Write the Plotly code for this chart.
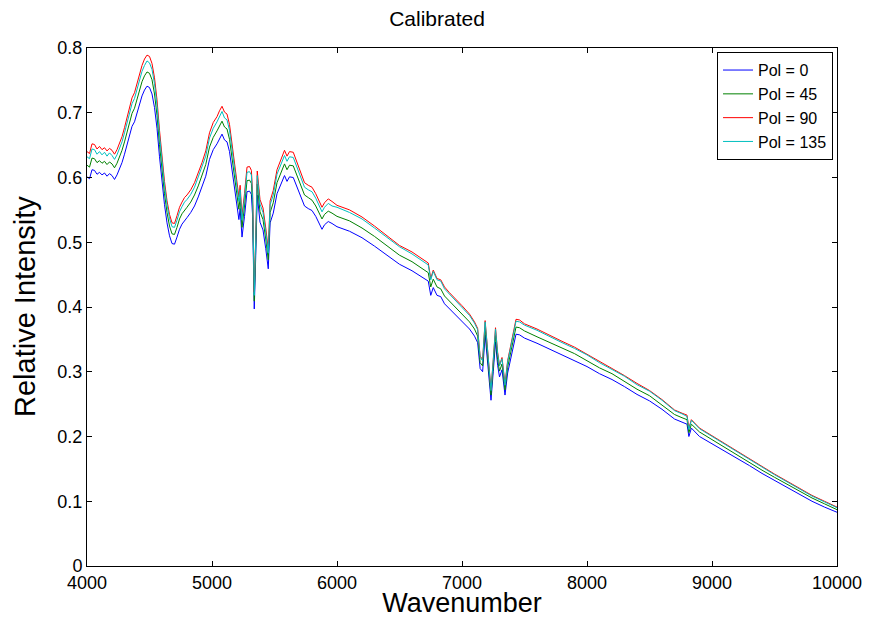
import plotly.graph_objects as go

# Wavenumber samples
wavenumber = [
    4000, 4020, 4040, 4060, 4080, 4100, 4120, 4140, 4160, 4180,
    4200, 4220, 4240, 4260, 4280, 4300, 4320, 4340, 4360, 4380,
    4400, 4420, 4440, 4460, 4480, 4500, 4520, 4540, 4560, 4580,
    4600, 4620, 4640, 4660, 4680, 4700, 4720, 4740, 4760, 4780,
    4800, 4830, 4860, 4890, 4920, 4950, 4980, 5010, 5040, 5060,
    5080, 5100, 5120, 5140, 5160, 5180, 5200, 5215, 5225, 5240,
    5260, 5280, 5300, 5315, 5325, 5338, 5350, 5362, 5384, 5408,
    5430, 5450, 5465, 5490, 5520, 5550, 5580, 5600, 5620, 5650,
    5680, 5710, 5740, 5770, 5800, 5830, 5860, 5880, 5900, 5930,
    5960, 6000, 6100, 6200, 6300, 6400, 6500, 6600, 6700, 6730,
    6750, 6770, 6800, 6830, 6860, 6900, 7000, 7060, 7100, 7125,
    7145, 7165, 7185, 7205, 7232, 7250, 7268, 7285, 7300, 7320,
    7344, 7365, 7390, 7408, 7420, 7432, 7460, 7500, 7600, 7700,
    7800, 7900, 8000, 8100, 8200, 8300, 8400, 8500, 8600, 8700,
    8760, 8800, 8815, 8835, 8900, 9000, 9100, 9200, 9300, 9400,
    9500, 9600, 9700, 9800, 9900, 10000,
]

pol_0 = [
    .601, .598, .612, .611, .605, .608, .604, .607, .602, .606,
    .603, .597, .604, .613, .623, .636, .651, .667, .679, .686,
    .700, .713, .726, .735, .741, .739, .729, .708, .676, .632,
    .592, .558, .530, .510, .498, .497, .508, .520, .528, .534,
    .538, .546, .556, .570, .585, .602, .628, .643, .652, .660,
    .667, .658, .655, .640, .612, .585, .555, .535, .552, .508,
    .540, .578, .579, .574, .540, .397, .480, .573, .531, .519,
    .490, .459, .530, .545, .575, .590, .603, .594, .601, .600,
    .585, .568, .556, .552, .549, .540, .528, .520, .527, .532,
    .529, .524, .517, .507, .494, .480, .466, .456, .444, .440,
    .418, .430, .418, .416, .405, .397, .378, .366, .355, .345,
    .305, .300, .357, .310, .256, .300, .346, .310, .292, .303,
    .264, .298, .320, .338, .345, .358, .357, .352, .344, .335,
    .326, .318, .308, .297, .288, .277, .265, .255, .242, .227,
    .222, .219, .200, .213, .200, .189, .177, .166, .155, .143,
    .132, .121, .110, .100, .091, .083,
]

pol_45 = [
    .619, .616, .630, .629, .623, .626, .622, .625, .620, .624,
    .621, .615, .622, .631, .642, .655, .671, .687, .699, .707,
    .721, .734, .748, .757, .763, .761, .751, .729, .696, .651,
    .610, .575, .546, .525, .513, .512, .523, .536, .544, .550,
    .554, .562, .573, .587, .603, .620, .647, .662, .672, .680,
    .687, .678, .675, .659, .630, .603, .572, .551, .569, .523,
    .556, .595, .596, .591, .556, .409, .494, .590, .547, .535,
    .505, .473, .546, .561, .592, .608, .621, .612, .619, .618,
    .603, .585, .573, .569, .565, .556, .544, .536, .543, .548,
    .545, .540, .533, .522, .509, .494, .480, .470, .457, .453,
    .431, .443, .431, .428, .417, .409, .389, .377, .366, .355,
    .314, .309, .368, .319, .264, .309, .356, .319, .301, .312,
    .272, .307, .330, .348, .355, .369, .368, .363, .354, .345,
    .336, .328, .317, .306, .297, .285, .273, .263, .249, .234,
    .229, .226, .206, .219, .207, .195, .183, .172, .160, .148,
    .137, .126, .115, .105, .096, .087,
]

pol_90 = [
    .640, .637, .652, .651, .644, .648, .643, .646, .641, .645,
    .642, .636, .643, .653, .663, .677, .693, .710, .723, .731,
    .746, .759, .773, .783, .789, .787, .776, .754, .720, .673,
    .630, .594, .564, .543, .530, .529, .541, .554, .562, .569,
    .573, .581, .592, .607, .623, .641, .669, .685, .694, .703,
    .710, .701, .698, .682, .652, .623, .591, .570, .588, .541,
    .575, .616, .617, .611, .575, .423, .511, .610, .566, .553,
    .522, .489, .564, .580, .612, .628, .642, .633, .640, .639,
    .623, .605, .592, .588, .585, .575, .562, .554, .561, .567,
    .563, .557, .550, .539, .525, .510, .495, .485, .472, .468,
    .444, .457, .444, .442, .431, .422, .402, .389, .377, .367,
    .324, .319, .379, .330, .272, .319, .368, .330, .310, .322,
    .281, .317, .340, .359, .367, .381, .380, .374, .366, .356,
    .347, .338, .327, .316, .306, .294, .282, .271, .257, .241,
    .236, .233, .213, .226, .213, .201, .189, .177, .166, .154,
    .142, .131, .120, .109, .100, .091,
]

pol_135 = [
    .632, .629, .644, .643, .636, .640, .635, .639, .633, .638,
    .634, .628, .635, .645, .655, .669, .685, .702, .714, .722,
    .736, .750, .764, .773, .780, .777, .767, .745, .711, .665,
    .623, .587, .558, .537, .524, .523, .534, .547, .555, .562,
    .566, .574, .585, .600, .615, .633, .661, .676, .686, .694,
    .702, .692, .689, .673, .644, .615, .584, .563, .581, .534,
    .568, .608, .609, .604, .568, .418, .505, .603, .559, .546,
    .515, .483, .558, .573, .605, .621, .634, .625, .632, .631,
    .615, .598, .585, .581, .578, .568, .555, .547, .554, .560,
    .556, .554, .546, .536, .522, .507, .493, .482, .469, .465,
    .442, .455, .442, .440, .428, .420, .400, .387, .375, .365,
    .322, .317, .377, .328, .271, .317, .366, .328, .309, .320,
    .279, .315, .338, .357, .365, .378, .377, .372, .364, .354,
    .345, .336, .326, .314, .304, .293, .280, .270, .256, .240,
    .235, .231, .211, .225, .212, .200, .188, .176, .165, .153,
    .141, .130, .119, .108, .099, .090,
]

x_ticks = [4000, 5000, 6000, 7000, 8000, 9000, 10000]
x_tick_labels = ["4000", "5000", "6000", "7000", "8000", "9000", "10000"]
y_ticks = [0, 0.1, 0.2, 0.3, 0.4, 0.5, 0.6, 0.7, 0.8]
y_tick_labels = ["0", "0.1", "0.2", "0.3", "0.4", "0.5", "0.6", "0.7", "0.8"]

series = [
    ("Pol = 0", pol_0, "#0000FF"),
    ("Pol = 45", pol_45, "#008000"),
    ("Pol = 90", pol_90, "#FF0000"),
    ("Pol = 135", pol_135, "#00BFBF"),
]

fig = go.Figure()
for name, values, colour in series:
    fig.add_trace(go.Scatter(
        x=wavenumber, y=values, mode="lines", name=name,
        line=dict(color=colour, width=1),
    ))

axis_style = dict(
    showgrid=False, zeroline=False, showline=True, linecolor="black",
    linewidth=1, mirror="ticks", ticks="inside", ticklen=5,
    tickcolor="black", tickfont=dict(size=18, color="black"),
    automargin=False,
)

# the page body adds an 8px margin, so the margins below are shifted by 8px
fig.update_layout(
    width=864, height=610,
    paper_bgcolor="white", plot_bgcolor="white",
    font=dict(family="Liberation Sans, Arial, sans-serif", color="black"),
    margin=dict(l=79, r=35, t=40, b=52),
    title=dict(text="Calibrated", x=429 / 864, xanchor="center",
               y=1 - 3 / 610, yanchor="top", pad=dict(t=0), font=dict(size=21)),
    showlegend=True,
    legend=dict(x=0.9947, xanchor="right", y=0.992, yanchor="top",
                bordercolor="black", borderwidth=1, bgcolor="white",
                font=dict(size=16), tracegroupgap=0, itemwidth=30),
)

fig.update_xaxes(axis_style, range=[4000, 10000], tickvals=x_ticks, ticktext=x_tick_labels,
                 title=dict(text="Wavenumber", font=dict(size=27), standoff=5))
fig.update_yaxes(axis_style, range=[0, 0.8], tickvals=y_ticks, ticktext=y_tick_labels)

# y title as an annotation so it can sit further left than the axis title allows
fig.add_annotation(text="Relative Intensity", textangle=-90, showarrow=False,
                   xref="paper", yref="paper", x=-62 / 750, y=0.5,
                   xanchor="center", yanchor="middle", font=dict(size=29))

fig.write_html("out.html")
